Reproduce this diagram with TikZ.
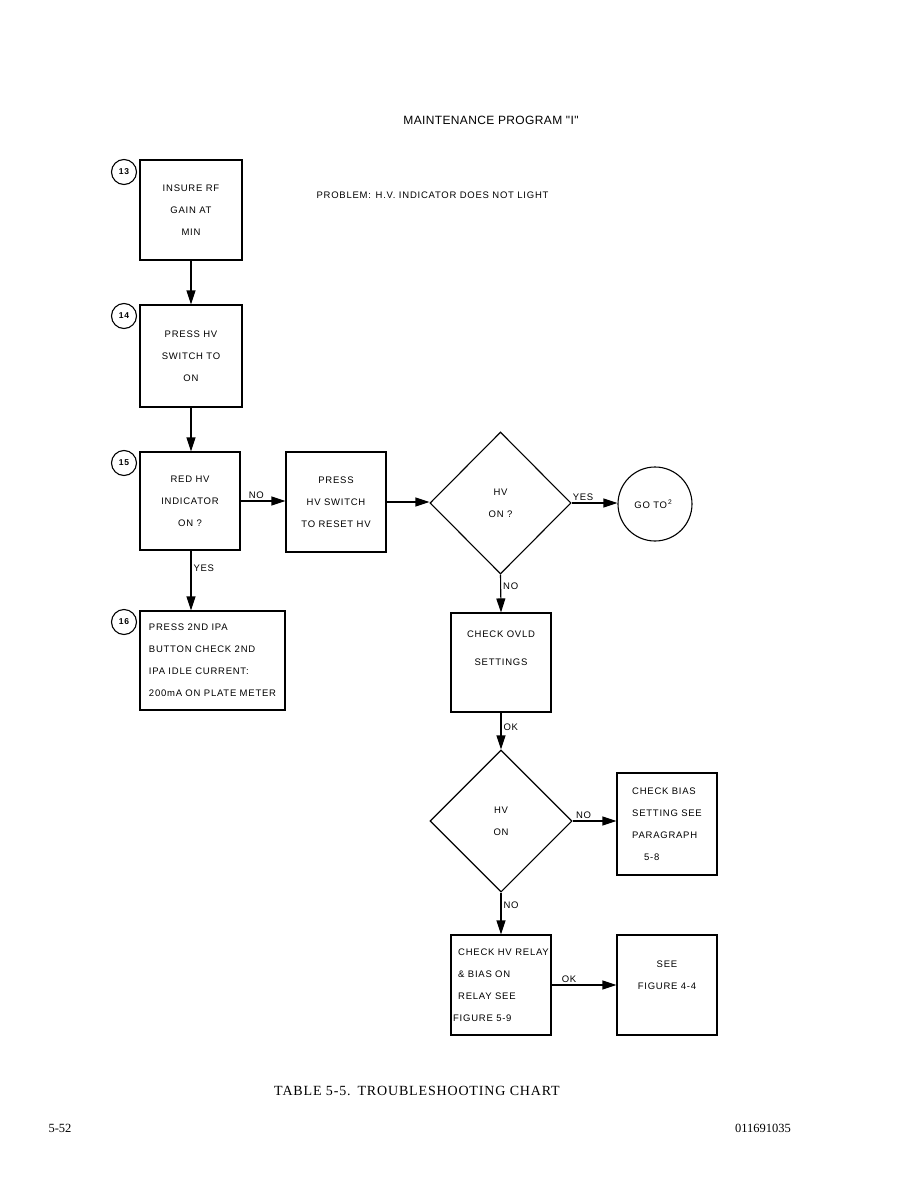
\documentclass[tikz,border=0pt]{standalone}
\usepackage{fontspec}
\setmainfont{Liberation Serif}
\newfontfamily\chartfont[LetterSpace=8]{Liberation Sans}
\newfontfamily\headfont[LetterSpace=3]{Liberation Sans}
\newfontfamily\capfont[LetterSpace=6]{Liberation Serif}
\usetikzlibrary{shapes.geometric,arrows.meta}

\tikzset{
  box/.style={draw,line width=1.1pt,minimum width=100pt,minimum height=100pt,
    align=center,inner sep=2pt,font=\chartfont\fontsize{9.5}{22}\selectfont},
  decision/.style={diamond,draw,line width=1.1pt,minimum width=141pt,
    minimum height=142pt,inner sep=0pt,align=center,
    font=\chartfont\fontsize{9.5}{22}\selectfont},
  stepnum/.style={circle,draw,line width=1.1pt,minimum size=25pt,inner sep=0pt,
    font=\chartfont\bfseries\fontsize{8.5}{9}\selectfont},
  flow/.style={line width=1.1pt,-{Triangle[length=14pt,width=9pt]}},
  tag/.style={font=\chartfont\fontsize{9.5}{10}\selectfont,inner sep=2pt}
}

\begin{document}
\begin{tikzpicture}[x=1pt,y=-1pt]
  \useasboundingbox (0,0) rectangle (918,1188);

  % Titel
  \node[font=\headfont\fontsize{12}{13}\selectfont] (title) at (491,120) {MAINTENANCE PROGRAM "I"};
  \node[font=\chartfont\fontsize{9.5}{10}\selectfont,anchor=west] (problem) at (313,195)
    {PROBLEM:\enspace H.V. INDICATOR DOES NOT LIGHT};

  % linke Spalte
  \node[box,minimum width=102pt] (b13) at (191,210) {INSURE RF\\GAIN AT\\MIN};
  \node[stepnum] (n13) at (124,172) {13};
  \node[box,minimum width=102pt,minimum height=102pt] (b14) at (191,356) {PRESS HV\\SWITCH TO\\ON};
  \node[stepnum] (n14) at (124,316) {14};
  \node[box,minimum height=98pt] (b15) at (190,501) {RED HV\\INDICATOR\\ON ?};
  \node[stepnum] (n15) at (124,463) {15};
  \node[box,minimum width=145pt,minimum height=99pt,align=left] (b16) at (212.5,660.5)
    {PRESS 2ND IPA\\BUTTON CHECK 2ND\\IPA IDLE CURRENT:\\200mA ON PLATE METER};
  \node[stepnum] (n16) at (124,622) {16};

  % mittlere Zeile
  \node[box] (reset) at (336,502) {PRESS\\HV SWITCH\\TO RESET HV};
  \node[decision] (hv1) at (500.5,503) {HV\\ON ?};
  \node[circle,draw,line width=1.1pt,minimum size=74pt,inner sep=0pt,
    font=\chartfont\fontsize{9.5}{10}\selectfont] (goto) at (655,504) {GO TO\textsuperscript{\,2}\,\,};

  % rechte Spalte
  \node[box,minimum height=99pt] (ovld) at (501,662.5) {CHECK OVLD\\[6pt]SETTINGS\\\strut};
  \node[decision,minimum width=142pt] (hv2) at (501,821) {HV\\ON};
  \node[box,minimum height=102pt,align=left] (bias) at (667,824)
    {CHECK BIAS\\SETTING SEE\\PARAGRAPH\\\hspace{12pt}5-8};
  \node[box,align=left,inner sep=1pt] (relay) at (501,985)
    {\hspace{5pt}CHECK HV\hspace{3.5pt}RELAY\\\hspace{5pt}\& BIAS ON\\\hspace{5pt}RELAY SEE\\FIGURE 5-9};
  \node[box] (fig) at (667,985) {SEE\\FIGURE 4-4\\[-8pt]\strut};

  % Pfeile
  \draw[flow] (b13) -- (b14);
  \draw[flow] (b14) -- (b14 |- b15.north);
  \draw[flow] (b15.east) -- node[tag,above,pos=0.35] {NO} (b15.east -| reset.west);
  \draw[flow] (b14 |- b15.south) -- node[tag,right,pos=0.3] {YES} (b14 |- b16.north);
  \draw[flow] (reset.east) -- (reset.east -| hv1.west);
  \draw[flow] (hv1.east) -- node[tag,above,pos=0.25] {YES} (hv1.east -| goto.west);
  \draw[flow] (hv1.south) -- node[tag,right,pos=0.3] {NO} (ovld.north);
  \draw[flow] (ovld.south) -- node[tag,right,pos=0.4] {OK} (hv2.north);
  \draw[flow] (hv2.east) -- node[tag,above,pos=0.25] {NO} (hv2.east -| bias.west);
  \draw[flow] (hv2.south) -- node[tag,right,pos=0.3] {NO} (relay.north);
  \draw[flow] (relay.east) -- node[tag,above,pos=0.27] {OK} (fig.west);

  % Fusszeile
  \node[font=\capfont\fontsize{14}{15}\selectfont] (caption) at (417,1091) {TABLE 5-5.\enspace TROUBLESHOOTING CHART};
  \node[font=\fontsize{12.5}{14}\selectfont] (page) at (60,1128) {5-52};
  \node[font=\fontsize{12.5}{14}\selectfont] (docno) at (763,1128) {011691035};
\end{tikzpicture}
\end{document}
